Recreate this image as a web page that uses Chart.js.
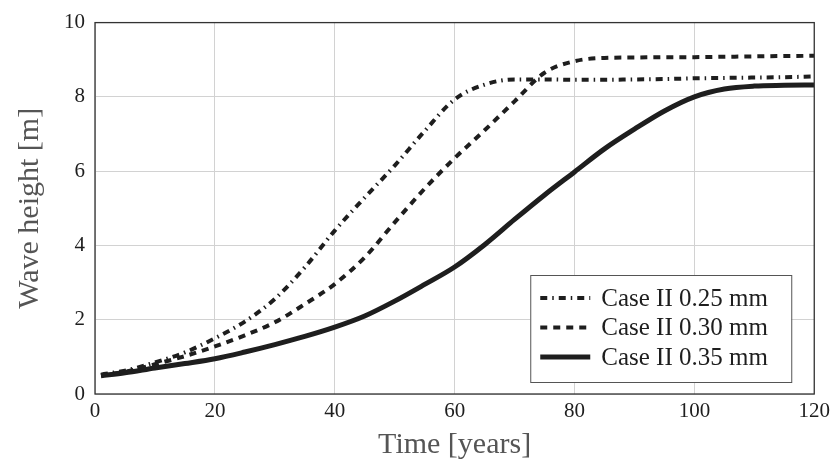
<!DOCTYPE html>
<html>
<head>
<meta charset="utf-8">
<script src="https://cdn.jsdelivr.net/npm/chart.js@4.4.1/dist/chart.umd.min.js"></script>
<style>
  html, body { margin: 0; padding: 0; background: #fff; }
  #wrap { width: 835px; height: 466px; }
</style>
</head>
<body>
<div id="wrap"><canvas id="waveChart" width="835" height="466"></canvas></div>
<script>
// values
const years = [1, 5, 10, 15, 20, 25, 30, 35, 40, 45, 50, 55, 60, 65, 70, 75, 80, 85, 90, 95, 100, 105, 110, 115, 120];
const case025 = [0.52, 0.63, 0.85, 1.12, 1.5, 1.95, 2.56, 3.41, 4.4, 5.29, 6.15, 7.08, 7.93, 8.33, 8.47, 8.47, 8.46, 8.46, 8.47, 8.48, 8.5, 8.51, 8.52, 8.53, 8.55];
const case030 = [0.5, 0.6, 0.8, 1.02, 1.28, 1.58, 1.93, 2.42, 2.96, 3.68, 4.62, 5.53, 6.35, 7.1, 7.88, 8.65, 8.96, 9.05, 9.06, 9.07, 9.07, 9.08, 9.09, 9.1, 9.11];
const case035 = [0.49, 0.57, 0.7, 0.82, 0.95, 1.13, 1.33, 1.55, 1.8, 2.1, 2.5, 2.95, 3.42, 4.02, 4.7, 5.36, 5.98, 6.6, 7.13, 7.62, 8.0, 8.21, 8.29, 8.31, 8.32];
const seriesLabels = ['Case II 0.25 mm', 'Case II 0.30 mm', 'Case II 0.35 mm'];
const xTicks = [0, 20, 40, 60, 80, 100, 120];
const yTicks = [0, 2, 4, 6, 8, 10];

const serif = '"Liberation Serif", "DejaVu Serif", serif';
const ink = '#1e1e1e';

function pts(ys){ return years.map((x, i) => ({x: x, y: ys[i]})); }

// frame round the plot area
const framePlugin = {
    id: 'frame',
    afterDraw(chart){
        const a = chart.chartArea, c = chart.ctx;
        c.save();
        c.strokeStyle = '#333';
        c.lineWidth = 1.3;
        c.strokeRect(a.left, a.top, a.right - a.left, a.bottom - a.top);
        c.restore();
    }
};

// legend box inside the lower right corner
const boxLegend = {
    id: 'boxLegend',
    afterDatasetsDraw(chart){
        const a = chart.chartArea, c = chart.ctx;
        const w = 261, h = 107;
        const x0 = a.right - 23 - w, y0 = a.bottom - 12 - h;
        c.save();
        c.fillStyle = '#fff';
        c.fillRect(x0, y0, w, h);
        c.strokeStyle = '#555';
        c.lineWidth = 1;
        c.strokeRect(x0 + 0.5, y0 + 0.5, w, h);
        c.font = '25px ' + serif;
        c.textBaseline = 'middle';
        chart.data.datasets.forEach((ds, i) => {
            const yy = y0 + 23 + i * 29.5;
            c.strokeStyle = ds.borderColor;
            c.lineWidth = ds.borderWidth;
            c.lineCap = 'butt';
            c.setLineDash(ds.borderDash || []);
            c.beginPath(); c.moveTo(x0 + 10, yy); c.lineTo(x0 + 60, yy); c.stroke();
            c.setLineDash([]);
            c.fillStyle = ink;
            c.fillText(ds.label, x0 + 71, yy + 1);
        });
        c.restore();
    }
};

new Chart(document.getElementById('waveChart'), {
    type: 'line',
    data: {
        datasets: [
            {label: seriesLabels[0], data: pts(case025), borderColor: ink, borderWidth: 4, borderDash: [7, 5, 1.5, 5]},
            {label: seriesLabels[1], data: pts(case030), borderColor: ink, borderWidth: 4, borderDash: [7, 6]},
            {label: seriesLabels[2], data: pts(case035), borderColor: ink, borderWidth: 5}
        ]
    },
    options: {
        responsive: false,
        animation: false,
        layout: {padding: {top: 22, right: 19, left: 0, bottom: 0}},
        elements: {
            point: {radius: 0},
            line: {cubicInterpolationMode: 'monotone', borderCapStyle: 'butt', fill: false}
        },
        plugins: {legend: {display: false}, tooltip: {enabled: false}},
        scales: {
            x: {
                type: 'linear', min: 0, max: 120,
                afterBuildTicks: s => { s.ticks = xTicks.map(v => ({value: v})); },
                afterFit: s => { s.height = 72; },
                grid: {color: '#d2d2d2', lineWidth: 1, drawTicks: false},
                border: {display: false},
                ticks: {color: ink, font: {family: serif, size: 21}, padding: 5, maxRotation: 0},
                title: {display: true, text: 'Time [years]', color: '#555', font: {family: serif, size: 30}, padding: {top: 0, bottom: 3}}
            },
            y: {
                min: 0, max: 10,
                afterBuildTicks: s => { s.ticks = yTicks.map(v => ({value: v})); },
                afterFit: s => { s.width = 95; },
                grid: {color: '#d2d2d2', lineWidth: 1, drawTicks: false},
                border: {display: false},
                ticks: {color: ink, font: {family: serif, size: 21}, padding: 10},
                title: {display: true, text: 'Wave height [m]', color: '#555', font: {family: serif, size: 30}, padding: {top: 12, bottom: 0}}
            }
        }
    },
    plugins: [framePlugin, boxLegend]
});
</script>
</body>
</html>
